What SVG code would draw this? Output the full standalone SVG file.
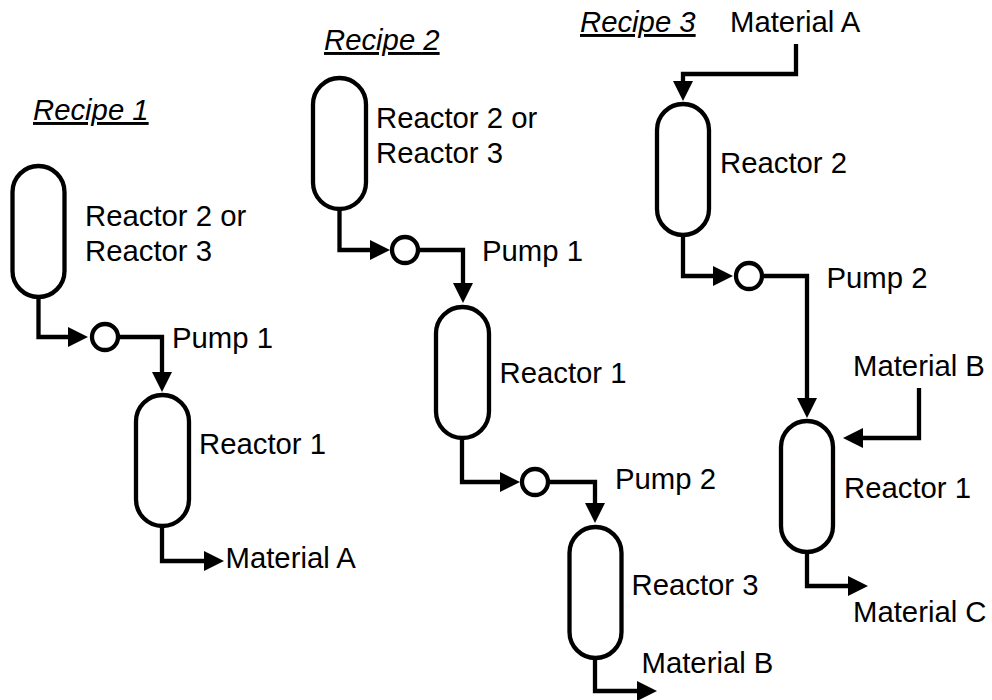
<svg xmlns="http://www.w3.org/2000/svg" width="992" height="700" viewBox="0 0 992 700">
<style>
text{font-family:"Liberation Sans",Arial,sans-serif;font-size:29.3px;fill:#000}
.t{font-style:italic;text-decoration:underline;text-decoration-thickness:3px}
.v{fill:#fff;stroke:#000;stroke-width:4.3}
.c{fill:none;stroke:#000;stroke-width:4.3}
</style>
<defs><marker id="a" markerUnits="userSpaceOnUse" markerWidth="21" markerHeight="21" refX="11" refY="10.500" orient="auto"><path d="M0 0.500L20 10.500L0 20.500z" fill="#000"/></marker></defs>
<rect width="992" height="700" fill="#fff"/>
<g id="connectors">
<path class="c" marker-end="url(#a)" d="M38.500 297V337H79"/>
<path class="c" marker-end="url(#a)" d="M118 337H162V383"/>
<path class="c" marker-end="url(#a)" d="M162 526V561H215"/>
<path class="c" marker-end="url(#a)" d="M339.500 208V250H381"/>
<path class="c" marker-end="url(#a)" d="M418 250H463V294"/>
<path class="c" marker-end="url(#a)" d="M462 437V482H511"/>
<path class="c" marker-end="url(#a)" d="M550 482H595V514"/>
<path class="c" marker-end="url(#a)" d="M595 658V691H648"/>
<path class="c" marker-end="url(#a)" d="M796 44V74H683V92"/>
<path class="c" marker-end="url(#a)" d="M683 235V276H724"/>
<path class="c" marker-end="url(#a)" d="M762 276H807V409"/>
<path class="c" marker-end="url(#a)" d="M919 388V438H852"/>
<path class="c" marker-end="url(#a)" d="M807 552V586H859"/>
</g>
<g id="r1-reactor-top"><rect class="v" x="12.500" y="166" width="52" height="131" rx="26"/><text x="85" y="226">Reactor 2 or</text><text x="85" y="261">Reactor 3</text></g>
<g id="r1-pump"><circle class="v" cx="105" cy="337" r="13"/><text x="172" y="348">Pump 1</text></g>
<g id="r1-reactor-bottom"><rect class="v" x="136" y="395" width="53" height="131" rx="26.500"/><text x="199" y="454">Reactor 1</text></g>
<g id="r2-reactor-top"><rect class="v" x="313" y="78" width="53" height="131" rx="26.500"/><text x="376" y="128">Reactor 2 or</text><text x="376" y="163">Reactor 3</text></g>
<g id="r2-pump1"><circle class="v" cx="405" cy="250" r="13"/><text x="482" y="261">Pump 1</text></g>
<g id="r2-reactor-mid"><rect class="v" x="436" y="307" width="53" height="131" rx="26.500"/><text x="499.500" y="383">Reactor 1</text></g>
<g id="r2-pump2"><circle class="v" cx="535" cy="482" r="13"/><text x="615" y="489">Pump 2</text></g>
<g id="r2-reactor-bottom"><rect class="v" x="569.500" y="527" width="52" height="131" rx="26"/><text x="631.500" y="595">Reactor 3</text></g>
<g id="r3-reactor-top"><rect class="v" x="657" y="104" width="52" height="131" rx="26"/><text x="720" y="173">Reactor 2</text></g>
<g id="r3-pump"><circle class="v" cx="749" cy="276" r="13"/><text x="826.500" y="288">Pump 2</text></g>
<g id="r3-reactor-bottom"><rect class="v" x="781" y="421" width="52" height="131" rx="26"/><text x="844" y="498">Reactor 1</text></g>
<g id="labels">
<text class="t" x="33" y="120">Recipe 1</text>
<text class="t" x="324" y="50">Recipe 2</text>
<text class="t" x="580" y="32">Recipe 3</text>
<text x="730" y="32">Material A</text>
<text x="225.500" y="568">Material A</text>
<text x="641.500" y="673">Material B</text>
<text x="853" y="376">Material B</text>
<text x="853" y="622">Material C</text>
</g>
</svg>
